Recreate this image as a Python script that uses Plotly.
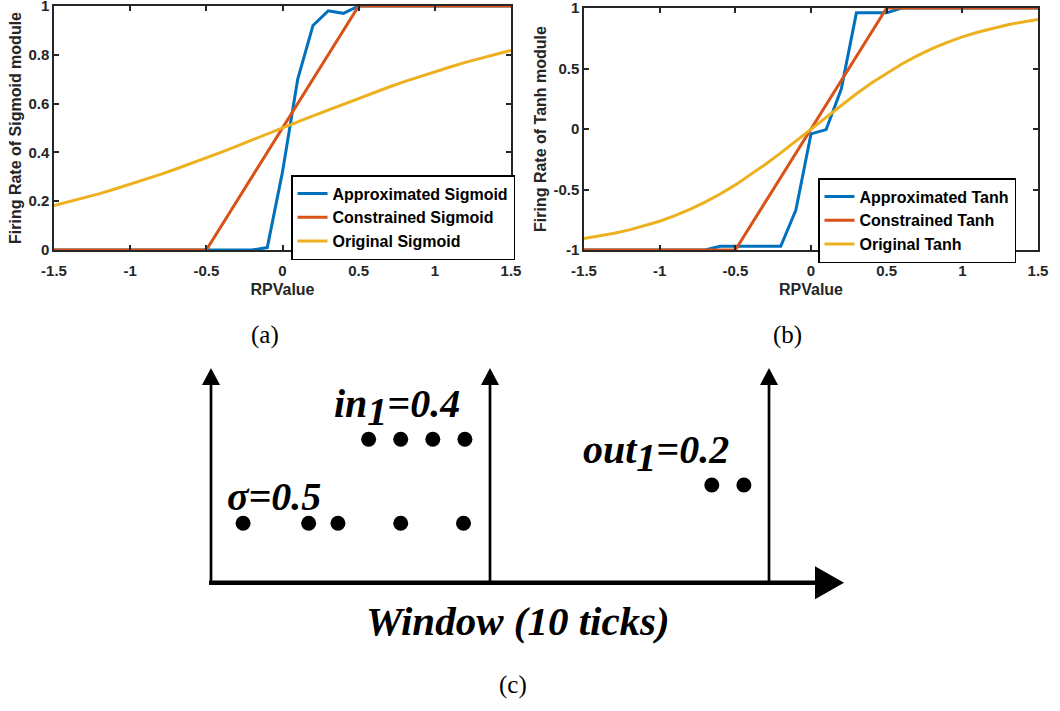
import plotly.graph_objects as go

W, H = 1060, 711

# ---------------- data ----------------
rp_value = [-1.5, -1.4, -1.3, -1.2, -1.1, -1.0, -0.9, -0.8, -0.7, -0.6, -0.5,
            -0.4, -0.3, -0.2, -0.1, 0.0, 0.1, 0.2, 0.3, 0.4, 0.5,
            0.6, 0.7, 0.8, 0.9, 1.0, 1.1, 1.2, 1.3, 1.4, 1.5]

approx_sigmoid = [0, 0, 0, 0, 0, 0, 0, 0, 0, 0, 0,
                  0, 0, 0.0, 0.01, 0.32, 0.70, 0.92, 0.98, 0.97, 1.0,
                  1, 1, 1, 1, 1, 1, 1, 1, 1, 1]
orig_sigmoid = [0.182, 0.198, 0.214, 0.231, 0.250, 0.269, 0.289, 0.310, 0.332, 0.354, 0.378,
                0.401, 0.426, 0.450, 0.475, 0.500, 0.525, 0.550, 0.574, 0.599, 0.622,
                0.646, 0.668, 0.690, 0.711, 0.731, 0.750, 0.769, 0.786, 0.802, 0.818]

approx_tanh = [-1, -1, -1, -1, -1, -1, -1, -1, -1, -0.97, -0.97,
               -0.97, -0.97, -0.97, -0.67, -0.04, -0.005, 0.33, 0.96, 0.96, 0.96,
               1, 1, 1, 1, 1, 1, 1, 1, 1, 1]
orig_tanh = [-0.905, -0.885, -0.862, -0.834, -0.800, -0.762, -0.716, -0.664, -0.604, -0.537, -0.462,
             -0.380, -0.291, -0.197, -0.100, 0.000, 0.100, 0.197, 0.291, 0.380, 0.462,
             0.537, 0.604, 0.664, 0.716, 0.762, 0.800, 0.834, 0.862, 0.885, 0.905]

constr_x = [-1.5, -0.5, 0.5, 1.5]
constr_sigmoid = [0, 0, 1, 1]
constr_tanh = [-1, -1, 1, 1]

x_ticks = [-1.5, -1, -0.5, 0, 0.5, 1, 1.5]
x_ticklabels = ["-1.5", "-1", "-0.5", "0", "0.5", "1", "1.5"]
ya_ticks = [0, 0.2, 0.4, 0.6, 0.8, 1]
ya_ticklabels = ["0", "0.2", "0.4", "0.6", "0.8", "1"]
yb_ticks = [-1, -0.5, 0, 0.5, 1]
yb_ticklabels = ["-1", "-0.5", "0", "0.5", "1"]

# panel (c): spike times (in ticks) and their levels
window_bounds = [0, 10, 20]
sigma_ticks = [1.15, 3.5, 4.55, 6.8, 9.05]
sigma_level = [2.77] * 5
in_ticks = [5.65, 6.8, 7.95, 9.1]
in_level = [6.68] * 4
out_ticks = [17.95, 19.1]
out_level = [4.55] * 2

BLUE, ORANGE, YELLOW = "#0072BD", "#D95319", "#EDB120"
AX = "#262626"
SANS = "Liberation Sans"
SERIF = "Liberation Serif"

fig = go.Figure()

# ---------------- panel (a) ----------------
for name, xs, ys, c in [("Approximated Sigmoid", rp_value, approx_sigmoid, BLUE),
                        ("Constrained Sigmoid", constr_x, constr_sigmoid, ORANGE),
                        ("Original Sigmoid", rp_value, orig_sigmoid, YELLOW)]:
    fig.add_trace(go.Scatter(x=xs, y=ys, mode="lines", name=name,
                             line=dict(color=c, width=3),
                             xaxis="x", yaxis="y", legend="legend"))

# ---------------- panel (b) ----------------
for name, xs, ys, c in [("Approximated Tanh", rp_value, approx_tanh, BLUE),
                        ("Constrained Tanh", constr_x, constr_tanh, ORANGE),
                        ("Original Tanh", rp_value, orig_tanh, YELLOW)]:
    fig.add_trace(go.Scatter(x=xs, y=ys, mode="lines", name=name,
                             line=dict(color=c, width=3),
                             xaxis="x2", yaxis="y2", legend="legend2"))

# ---------------- panel (c) ----------------
for xs, ys in [(sigma_ticks, sigma_level), (in_ticks, in_level), (out_ticks, out_level)]:
    fig.add_trace(go.Scatter(x=xs, y=ys, mode="markers", showlegend=False,
                             marker=dict(color="black", size=15, line=dict(width=0)),
                             xaxis="x3", yaxis="y3"))

# pixel helpers for layout
def px(xp):
    return xp / W

def py(yp):
    return 1 - yp / H

tickfont = dict(family=SANS, size=15, color=AX, weight="bold")
titlefont = dict(family=SANS, size=16, color=AX, weight="bold")

axis_style = dict(ticks="inside", ticklen=5, tickwidth=1.5, tickcolor=AX,
                  showline=True, linecolor=AX, linewidth=1.5, mirror="allticks",
                  showgrid=False, zeroline=False, tickfont=tickfont,
                  ticklabeloverflow="allow", automargin=False)

common_x = dict(range=[-1.5, 1.5], tickvals=x_ticks, ticktext=x_ticklabels,
                ticklabelstandoff=6,
                title=dict(text="RPValue", font=titlefont, standoff=6), **axis_style)

legend_font = dict(family=SANS, size=16, color="black", weight="bold")

fig.update_layout(
    width=W, height=H, margin=dict(l=0, r=0, t=0, b=0, autoexpand=False),
    paper_bgcolor="white", plot_bgcolor="white",
    xaxis=dict(domain=[px(54), px(511)], anchor="y", **common_x),
    yaxis=dict(domain=[py(250), py(6)], anchor="x", range=[0, 1],
               tickvals=ya_ticks, ticktext=ya_ticklabels,
               title=dict(text="Firing Rate of Sigmoid module", font=titlefont, standoff=3),
               **axis_style),
    xaxis2=dict(domain=[px(584), px(1038)], anchor="y2", **common_x),
    yaxis2=dict(domain=[py(250), py(8)], anchor="x2", range=[-1, 1],
                tickvals=yb_ticks, ticktext=yb_ticklabels,
                title=dict(text="Firing Rate of Tanh module", font=titlefont, standoff=3),
                **axis_style),
    legend=dict(x=px(291), y=py(175), xanchor="left", yanchor="top",
                bordercolor="black", borderwidth=1.5, bgcolor="white",
                font=legend_font, tracegroupgap=0, itemwidth=30),
    legend2=dict(x=px(818), y=py(178), xanchor="left", yanchor="top",
                 bordercolor="black", borderwidth=1.5, bgcolor="white",
                 font=legend_font, tracegroupgap=0, itemwidth=30),
    showlegend=True,
)

# panel (c) axes: map pixels to (tick, level) units
X0, UX = 211.0, 27.9     # px of tick 0, px per tick
Y0, VY = 582.7, 21.47    # px of level 0, px per level
cx = lambda xp: (xp - X0) / UX
cy = lambda yp: (Y0 - yp) / VY
fig.update_layout(
    xaxis3=dict(domain=[px(181), px(881)], range=[cx(181), cx(881)], anchor="y3",
                visible=False, fixedrange=True, automargin=False),
    yaxis3=dict(domain=[py(711), py(350)], range=[cy(711), cy(350)], anchor="x3",
                visible=False, fixedrange=True, automargin=False),
)

shapes = []
arrow_top = 10
head_w, head_h = 9 / UX, 17 / VY
for b in window_bounds:
    shapes.append(dict(type="line", xref="x3", yref="y3", x0=b, x1=b, y0=0,
                       y1=arrow_top - head_h * 0.8, line=dict(color="black", width=2.7)))
    shapes.append(dict(type="path", xref="x3", yref="y3",
                       path=f"M {b - head_w},{arrow_top - head_h} L {b},{arrow_top} "
                            f"L {b + head_w},{arrow_top - head_h} Z",
                       fillcolor="black", line=dict(color="black", width=0)))
tip = cx(844)
hb = cx(815)
hh = 16.5 / VY
shapes.append(dict(type="line", xref="x3", yref="y3", x0=cx(209), x1=hb + 0.2, y0=0, y1=0,
                   line=dict(color="black", width=4.5)))
shapes.append(dict(type="path", xref="x3", yref="y3",
                   path=f"M {hb},{-hh} L {tip},0 L {hb},{hh} Z",
                   fillcolor="black", line=dict(color="black", width=0)))
fig.update_layout(shapes=shapes)

FS = 40
asc = 0.891 * FS - 4
sub1 = "<sub><span style='font-size:40px'>1</span></sub>"
serif_bi = dict(family=SERIF, size=FS, color="black")
annotations = [
    dict(text=f"<b><i>in{sub1}=0.4</i></b>", x=cx(333), y=cy(411.7 - asc),
         xanchor="left", yanchor="top"),
    dict(text="<b><i>σ=0.5</i></b>", x=cx(226), y=cy(505 - asc),
         xanchor="left", yanchor="top"),
    dict(text=f"<b><i>out{sub1}=0.2</i></b>", x=cx(582), y=cy(458 - asc),
         xanchor="left", yanchor="top"),
    dict(text="<b><i>Window (10 ticks)</i></b>", x=cx(517.5), y=cy(630 - 0.891 * 41 + 4),
         xanchor="center", yanchor="top", font=dict(family=SERIF, size=41, color="black")),
]
for a in annotations:
    a.setdefault("font", serif_bi)
    a.update(xref="x3", yref="y3", showarrow=False, borderpad=0)

cap_font = dict(family=SERIF, size=25, color="black")
for txt, xp, yp in [("(a)", 265, 335), ("(b)", 788, 335), ("(c)", 513, 685)]:
    annotations.append(dict(text=txt, x=px(xp), y=py(yp), xref="paper", yref="paper",
                            xanchor="center", yanchor="middle", showarrow=False,
                            font=cap_font))
fig.update_layout(annotations=annotations)

fig.write_html("out.html")
